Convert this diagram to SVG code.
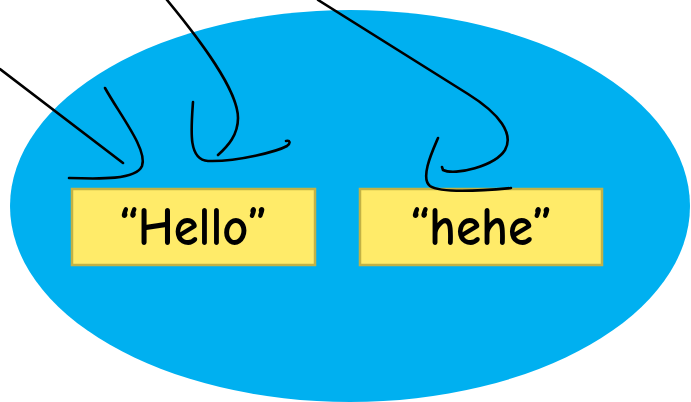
<svg xmlns="http://www.w3.org/2000/svg" width="691" height="402" viewBox="0 0 691 402">
<style>
.box{fill:#FFEB69;stroke:#C2B246;stroke-width:2.5}
.lbl{font-family:"Comic Sans MS","Comic Neue","DejaVu Sans Condensed","Noto Sans",sans-serif;font-size:54px;font-weight:bold;fill:#000;text-anchor:middle}
.ln{fill:none;stroke:#000;stroke-width:2.6;stroke-linecap:round;stroke-linejoin:round}
</style>
<rect width="691" height="402" fill="#fff"/>
<g id="set">
<ellipse cx="350" cy="206" rx="340" ry="196" fill="#00B0F0"/>
</g>
<g id="node-hello">
<rect class="box" x="72" y="189" width="243" height="76"/>
<text class="lbl" x="193" y="245" textLength="148" lengthAdjust="spacingAndGlyphs">“Hello”</text>
</g>
<g id="node-hehe">
<rect class="box" x="360" y="189" width="242" height="76"/>
<text class="lbl" x="481" y="245" textLength="142" lengthAdjust="spacingAndGlyphs">“hehe”</text>
</g>
<g id="connectors">
<path class="ln" d="M0,69 L123,163"/>
<path class="ln" d="M105,88 C120,115 148,150 142,166 C136,180 100,179 69,178"/>
<path class="ln" d="M167,0 C200,40 238,90 238,118 C238,135 228,146 218,155"/>
<path class="ln" d="M193,102 C191,130 188,160 208,161 C238,162 278,151 287,146 C291,143 290,140 286,141"/>
<path class="ln" d="M318,0 L468,94 C500,114 514,134 505,150 C495,166 455,176 443,170 L442,167"/>
<path class="ln" d="M438,138 C432,152 420,178 430,186 C442,194 490,190 511,188"/>
</g>
</svg>
